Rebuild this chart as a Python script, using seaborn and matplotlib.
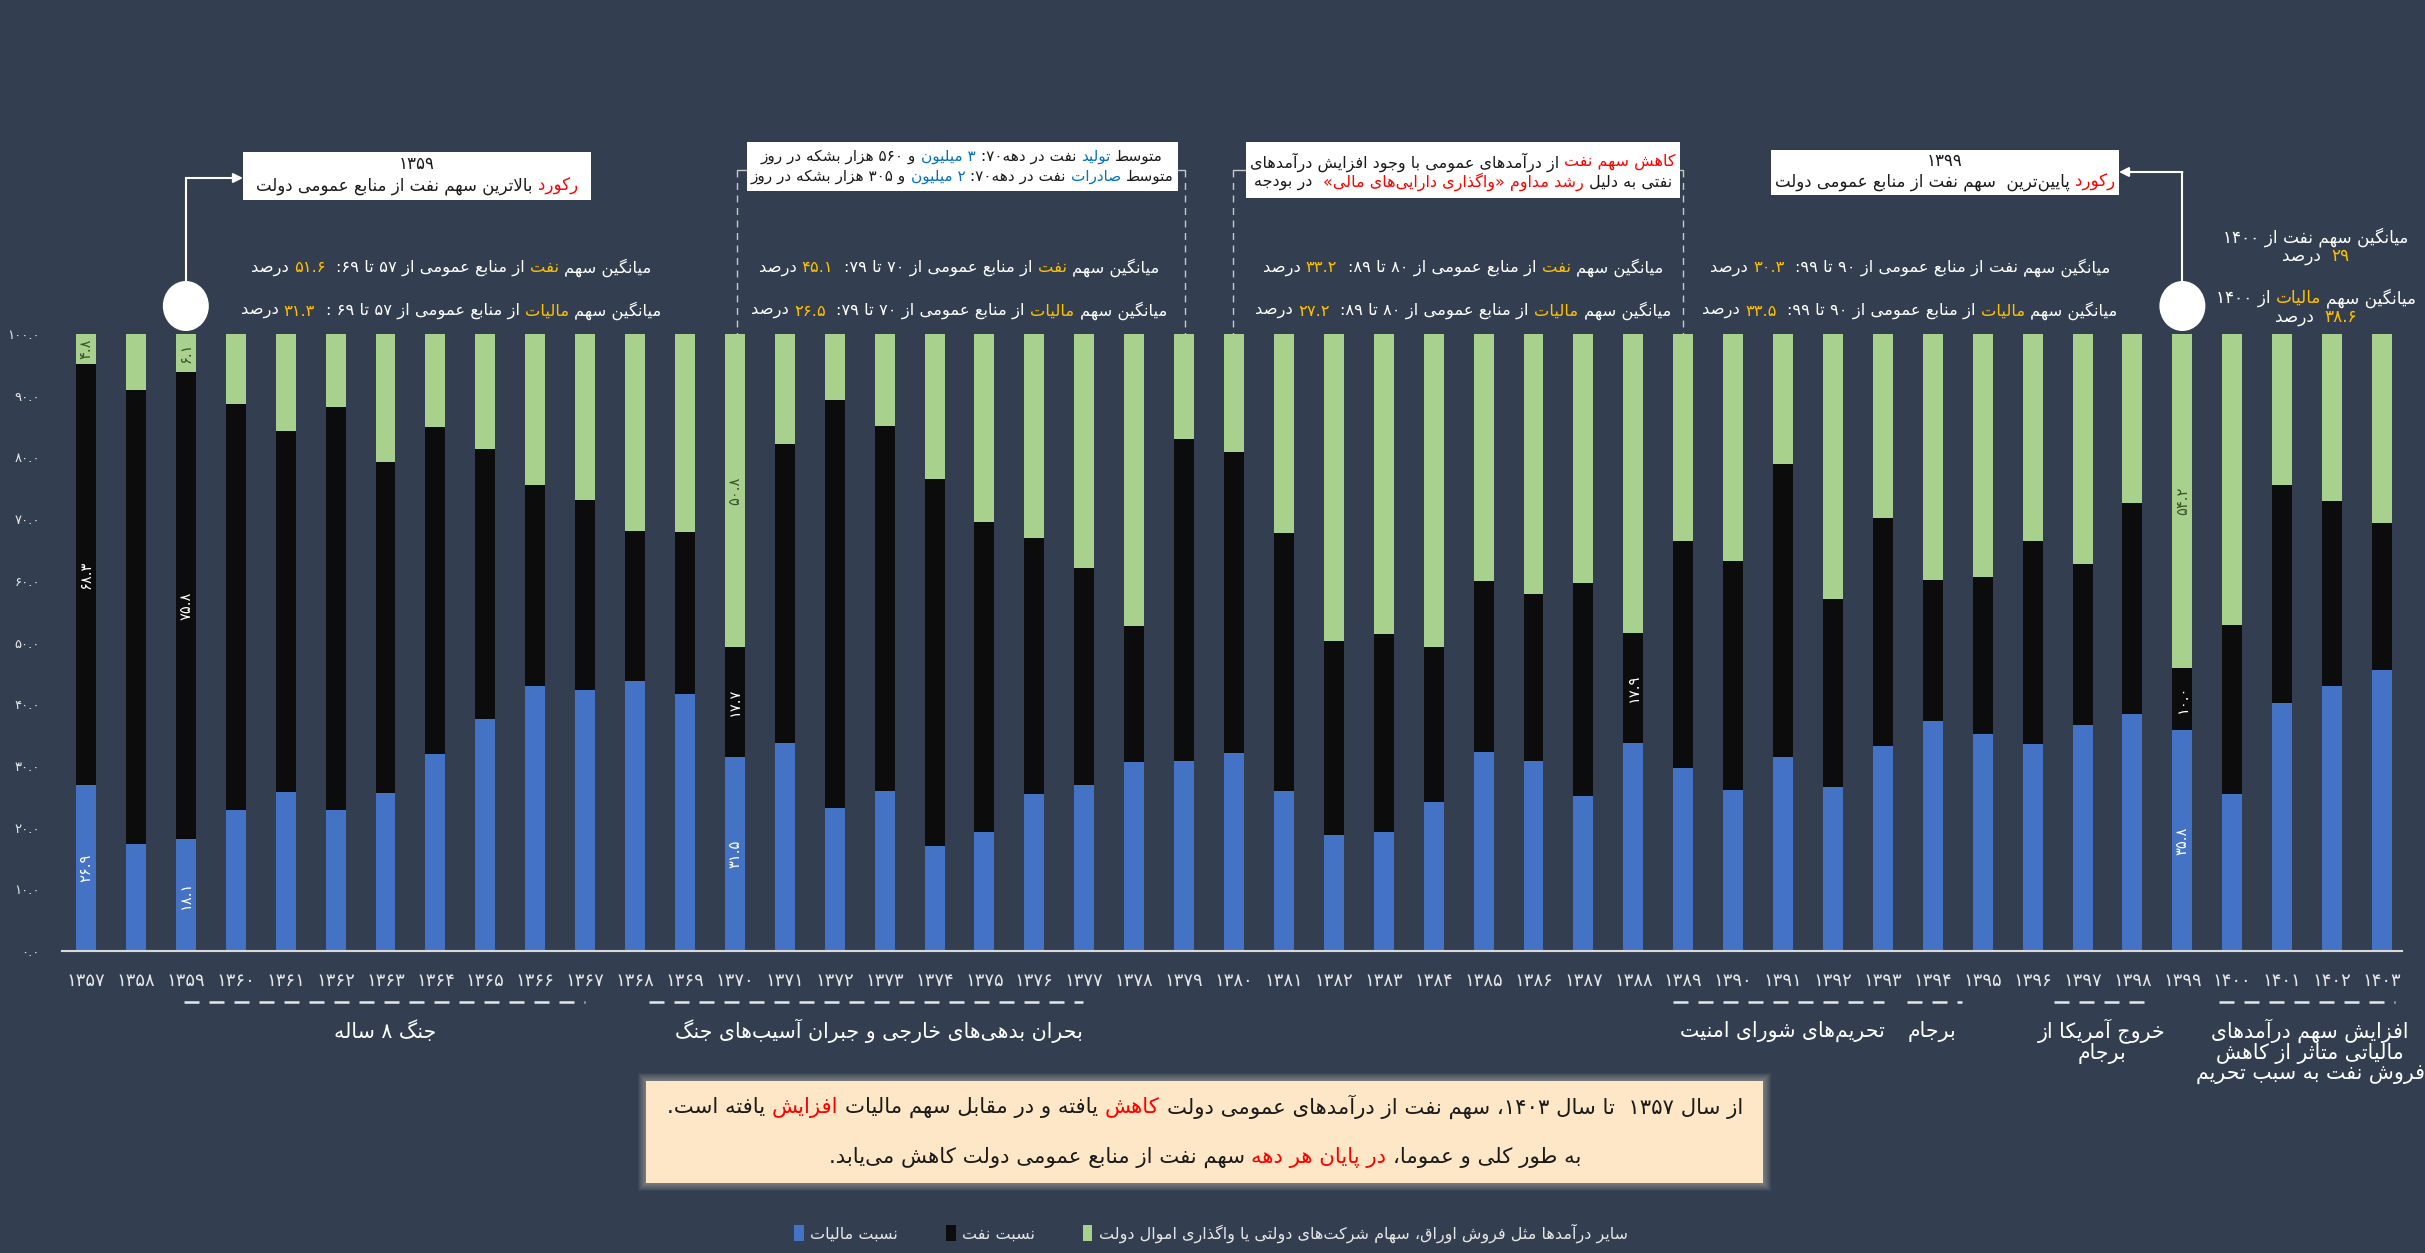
#!/usr/bin/env python3
"""
Oil vs tax share of Iran's government general resources, 1357-1403
"""

import numpy as np
import pandas as pd
import matplotlib
matplotlib.use('Agg')
import matplotlib.pyplot as plt
import seaborn as sns
from matplotlib.patches import Ellipse, FancyBboxPatch, Patch, Rectangle

# ---------------------------------------------------------------- data
years = list(range(1357, 1404))

tax_share = [26.9, 17.4, 18.1, 22.9, 25.7, 22.9, 25.6, 31.9, 37.6, 43.0, 42.3, 43.8, 41.6,
             31.5, 33.7, 23.1, 26.0, 17.0, 19.3, 25.4, 26.9, 30.7, 30.8,
             32.1, 26.0, 18.8, 19.3, 24.2, 32.3, 30.8, 25.1, 33.7, 29.7,
             26.1, 31.5, 26.6, 33.3, 37.3, 35.2, 33.6, 36.6, 38.4, 35.8,
             25.5, 40.2, 43.0, 45.6]

oil_share = [68.3, 73.6, 75.8, 65.7, 58.5, 65.2, 53.7, 53.0, 43.7, 32.6, 30.8, 24.3, 26.3,
             17.7, 48.4, 66.2, 59.1, 59.5, 50.3, 41.5, 35.1, 21.9, 52.2,
             48.7, 41.7, 31.5, 32.0, 25.0, 27.7, 27.0, 34.6, 17.9, 36.8,
             37.1, 47.4, 30.5, 36.8, 22.9, 25.4, 32.8, 26.2, 34.2, 10.0,
             27.3, 35.3, 29.9, 23.7]

other_share = [4.8, 9.0, 6.1, 11.4, 15.8, 11.9, 20.7, 15.1, 18.7, 24.4, 26.9, 31.9, 32.1,
               50.8, 17.9, 10.7, 14.9, 23.5, 30.4, 33.1, 38.0, 47.4, 17.0,
               19.2, 32.3, 49.7, 48.7, 50.8, 40.0, 42.2, 40.3, 48.4, 33.5,
               36.8, 21.1, 42.9, 29.9, 39.8, 39.4, 33.6, 37.2, 27.4, 54.2,
               47.2, 24.5, 27.1, 30.7]

# which segments carry a value label
labelled = {1357: ('tax', 'oil', 'other'), 1359: ('tax', 'oil', 'other'),
            1370: ('tax', 'oil', 'other'), 1388: ('oil',), 1399: ('tax', 'oil', 'other')}

series_names = {'tax': 'نسبت مالیات', 'oil': 'نسبت نفت',
                'other': 'سایر درآمدها مثل فروش اوراق، سهام شرکت\u200cهای دولتی یا واگذاری اموال دولت'}

# ---------------------------------------------------------------- colours
BG = '#333F50'
BLUE = '#4472C4'
BLACK = '#0C0C0C'
GREEN = '#A9D18E'
YEL = '#FFC000'
RED = '#FF0000'
LBLUE = '#0070C0'
WHITE = '#FFFFFF'
INK = '#1A1A1A'

W, H = 2425, 1253

# ---------------------------------------------------------------- persian text helpers
ZWNJ = '\u200c'
FORMS = {
    '\u0621': ('\uFE80', None, None, None),
    '\u0622': ('\uFE81', '\uFE82', None, None),
    '\u0623': ('\uFE83', '\uFE84', None, None),
    '\u0627': ('\uFE8D', '\uFE8E', None, None),
    '\u0628': ('\uFE8F', '\uFE90', '\uFE91', '\uFE92'),
    '\u067E': ('\uFB56', '\uFB57', '\uFB58', '\uFB59'),
    '\u062A': ('\uFE95', '\uFE96', '\uFE97', '\uFE98'),
    '\u062B': ('\uFE99', '\uFE9A', '\uFE9B', '\uFE9C'),
    '\u062C': ('\uFE9D', '\uFE9E', '\uFE9F', '\uFEA0'),
    '\u0686': ('\uFB7A', '\uFB7B', '\uFB7C', '\uFB7D'),
    '\u062D': ('\uFEA1', '\uFEA2', '\uFEA3', '\uFEA4'),
    '\u062E': ('\uFEA5', '\uFEA6', '\uFEA7', '\uFEA8'),
    '\u062F': ('\uFEA9', '\uFEAA', None, None),
    '\u0630': ('\uFEAB', '\uFEAC', None, None),
    '\u0631': ('\uFEAD', '\uFEAE', None, None),
    '\u0632': ('\uFEAF', '\uFEB0', None, None),
    '\u0698': ('\uFB8A', '\uFB8B', None, None),
    '\u0633': ('\uFEB1', '\uFEB2', '\uFEB3', '\uFEB4'),
    '\u0634': ('\uFEB5', '\uFEB6', '\uFEB7', '\uFEB8'),
    '\u0635': ('\uFEB9', '\uFEBA', '\uFEBB', '\uFEBC'),
    '\u0636': ('\uFEBD', '\uFEBE', '\uFEBF', '\uFEC0'),
    '\u0637': ('\uFEC1', '\uFEC2', '\uFEC3', '\uFEC4'),
    '\u0638': ('\uFEC5', '\uFEC6', '\uFEC7', '\uFEC8'),
    '\u0639': ('\uFEC9', '\uFECA', '\uFECB', '\uFECC'),
    '\u063A': ('\uFECD', '\uFECE', '\uFECF', '\uFED0'),
    '\u0641': ('\uFED1', '\uFED2', '\uFED3', '\uFED4'),
    '\u0642': ('\uFED5', '\uFED6', '\uFED7', '\uFED8'),
    '\u06A9': ('\uFB8E', '\uFB8F', '\uFB90', '\uFB91'),
    '\u06AF': ('\uFB92', '\uFB93', '\uFB94', '\uFB95'),
    '\u0644': ('\uFEDD', '\uFEDE', '\uFEDF', '\uFEE0'),
    '\u0645': ('\uFEE1', '\uFEE2', '\uFEE3', '\uFEE4'),
    '\u0646': ('\uFEE5', '\uFEE6', '\uFEE7', '\uFEE8'),
    '\u0648': ('\uFEED', '\uFEEE', None, None),
    '\u0647': ('\uFEE9', '\uFEEA', '\uFEEB', '\uFEEC'),
    '\u06CC': ('\uFBFC', '\uFBFD', '\uFEF3', '\uFEF4'),
}
LAM_ALEF = {'\u0627': ('\uFEFB', '\uFEFC'), '\u0622': ('\uFEF5', '\uFEF6'),
            '\u0623': ('\uFEF7', '\uFEF8')}
MIRROR = {'(': ')', ')': '(', '\u00ab': '\u00bb', '\u00bb': '\u00ab'}
FA = str.maketrans('0123456789', '۰۱۲۳۴۵۶۷۸۹')


def fa(v):
    return str(v).translate(FA)


def _jn(c):
    f = FORMS.get(c)
    return f is not None and f[2] is not None


def _jp(c):
    f = FORMS.get(c)
    return f is not None and f[1] is not None


def shape(s):
    res, i, n = [], 0, len(s)
    while i < n:
        c = s[i]
        if c not in FORMS:
            if c != ZWNJ:
                res.append(c)
            i += 1
            continue
        prev = s[i - 1] if i > 0 else ''
        nxt = s[i + 1] if i + 1 < n else ''
        cp = _jn(prev) and _jp(c)
        if c == '\u0644' and nxt in LAM_ALEF:
            iso, fin = LAM_ALEF[nxt]
            res.append(fin if cp else iso)
            i += 2
            continue
        cn = _jn(c) and _jp(nxt)
        iso, fin, ini, med = FORMS[c]
        res.append(med if (cp and cn) else fin if cp else ini if cn else iso)
        i += 1
    return ''.join(res)


def visual(s):
    s = shape(s)
    n = len(s)
    cls = []
    for i, c in enumerate(s):
        if c.isdigit() or c.isascii() and c.isalpha():
            cls.append('L')
        elif c in '.,/' and 0 < i < n - 1 and s[i - 1].isdigit() and s[i + 1].isdigit():
            cls.append('L')
        else:
            cls.append('R')
    runs = []
    for c, k in zip(s, cls):
        if runs and runs[-1][0] == k:
            runs[-1][1].append(c)
        else:
            runs.append([k, [c]])
    out = []
    for k, chars in reversed(runs):
        if k == 'R':
            out.append(''.join(MIRROR.get(c, c) for c in reversed(chars)))
        else:
            out.append(''.join(chars))
    return ''.join(out)


# ---------------------------------------------------------------- figure
sns.set_theme(style='dark', rc={'axes.facecolor': BG, 'figure.facecolor': BG})
plt.rcParams['font.family'] = ['DejaVu Sans']

fig = plt.figure(figsize=(W / 100, H / 100), dpi=100, facecolor=BG)
ax = fig.add_axes([62 / W, 1 - 951 / H, (2402 - 62) / W, (951 - 334) / H])
ax.set_facecolor('none')

cats = [fa(y) for y in years]
tax = np.array(tax_share)
oil = np.array(oil_share)
other = np.array(other_share)
top_oil = tax + oil
top_all = tax + oil + other

# overlapping layers: tallest first
for vals, col in [(top_all, GREEN), (top_oil, BLACK), (tax, BLUE)]:
    sns.barplot(x=cats, y=vals, color=col, saturation=1, width=0.4,
                errorbar=None, linewidth=0, edgecolor='none', ax=ax)

for i, yr in enumerate(years):
    if yr not in labelled:
        continue
    segs = {'tax': (tax[i] / 2, tax[i], WHITE),
            'oil': (tax[i] + oil[i] / 2, oil[i], WHITE),
            'other': (top_oil[i] + other[i] / 2, other[i], '#3B5229')}
    for key in labelled[yr]:
        yc, v, col = segs[key]
        ax.text(i, yc, fa(f'{v:.1f}'), rotation=90, ha='center', va='center',
                color=col, fontsize=10.5)

ax.set_xlim(-0.481, 46.4)
ax.set_ylim(0, 100)
ax.set_yticks(np.arange(0, 101, 10))
ax.set_yticklabels([fa(f'{v:.1f}') for v in np.arange(0, 101, 10)],
                   color='#E6E6E6', fontsize=9.5)
ax.set_xticks(range(len(years)))
ax.set_xticklabels(cats, color='#E6E6E6', fontsize=13)
ax.tick_params(axis='y', length=0, pad=16)
ax.tick_params(axis='x', length=0, pad=15)
ax.set_xlabel('')
ax.set_ylabel('')
ax.grid(False)
for s in ['top', 'left', 'right']:
    ax.spines[s].set_visible(False)
ax.spines['bottom'].set_color('#D9D9D9')
ax.spines['bottom'].set_linewidth(1.5)

# ---------------------------------------------------------------- overlay in pixel space
ov = fig.add_axes([0, 0, 1, 1])
ov.set_xlim(0, W)
ov.set_ylim(H, 0)
ov.axis('off')
ov.patch.set_alpha(0)

renderer = fig.canvas.get_renderer()
_wc = {}


def tw(s, size):
    key = (s, size)
    if key not in _wc:
        t = ov.text(0, 0, '|' + s + '|', fontsize=size)
        w1 = t.get_window_extent(renderer).width
        t.set_text('||')
        w2 = t.get_window_extent(renderer).width
        t.remove()
        _wc[key] = w1 - w2
    return _wc[key]


def rich(x, y, parts, size, ha='center', color=WHITE):
    vis = [(visual(s), c or color) for s, c in parts]
    widths = [tw(v, size) for v, _ in vis]
    total = sum(widths)
    right = x + total / 2 if ha == 'center' else x if ha == 'right' else x + total
    for (v, c), w in zip(vis, widths):
        left = right - w
        lead = len(v) - len(v.lstrip(' '))
        core = v.strip(' ')
        if core:
            ov.text(left + (tw(' ' * lead, size) if lead else 0), y, core,
                    color=c, fontsize=size, ha='left', va='center')
        right = left


def bar_px(idx):
    px, _ = ax.transData.transform((idx, 0))
    return px


# white note boxes
def note_box(x0, y0, x1, y1):
    ov.add_patch(Rectangle((x0, y0), x1 - x0, y1 - y0, facecolor='white',
                           edgecolor='none', zorder=3))


note_box(243, 152, 591, 200)
rich(417, 164, [('۱۳۵۹', INK)], 12)
rich(417, 186, [('رکورد', RED), (' بالاترین سهم نفت از منابع عمومی دولت', INK)], 12)

note_box(747, 142, 1178, 191)
rich(962, 157, [('متوسط ', INK), ('تولید', LBLUE), (' نفت در دهه۷۰: ', INK),
                ('۳ میلیون', LBLUE), (' و ۵۶۰ هزار بشکه در روز', INK)], 11)
rich(962, 177, [('متوسط ', INK), ('صادرات', LBLUE), (' نفت در دهه۷۰: ', INK),
                ('۲ میلیون', LBLUE), (' و ۳۰۵ هزار بشکه در روز', INK)], 11)

note_box(1246, 142, 1680, 198)
rich(1463, 162, [('کاهش سهم نفت', RED), (' از درآمدهای عمومی با وجود افزایش درآمدهای', INK)], 11.5)
rich(1463, 182, [('نفتی به دلیل ', INK), ('رشد مداوم «واگذاری دارایی\u200cهای مالی»', RED),
                 ('  در بودجه', INK)], 11.5)

note_box(1771, 150, 2119, 195)
rich(1945, 161, [('۱۳۹۹', INK)], 12)
rich(1945, 182, [('رکورد', RED), (' پایین\u200cترین  سهم نفت از منابع عمومی دولت', INK)], 12)

# dashed brackets round the two middle decades
for xl, xr, bl, br in [(737, 1185, 747, 1178), (1233, 1683, 1246, 1680)]:
    for xx, stub in [(xl, bl), (xr, br)]:
        ov.plot([xx, xx], [170, 334], color='#C8C8C8', lw=1, ls=(0, (5, 4)))
        ov.plot([xx, stub], [170, 170], color='#C8C8C8', lw=1)

# record markers with elbow arrows
for yr, y_arrow, box_edge in [(1359, 178, 243), (1399, 172, 2119)]:
    bx = bar_px(years.index(yr))
    ov.add_patch(Ellipse((bx, 306), 46, 50, facecolor='white', edgecolor='none', zorder=4))
    ov.plot([bx, bx], [281, y_arrow], color='white', lw=1.5)
    ov.annotate('', xy=(box_edge, y_arrow), xytext=(bx, y_arrow),
                arrowprops=dict(arrowstyle='-|>', color='white', lw=1.5,
                                shrinkA=0, shrinkB=0, mutation_scale=14))

# decade averages
AVG = 11.8
decades = [(451, '۵۷ تا ۶۹:  ', '۶۹ :  ', '۵۱.۶', '۳۱.۳', True),
           (959, '۷۰ تا ۷۹:  ', None, '۴۵.۱', '۲۶.۵', True),
           (1463, '۸۰ تا ۸۹:  ', None, '۳۳.۲', '۲۷.۲', True),
           (1910, '۹۰ تا ۹۹:  ', None, '۳۰.۳', '۳۳.۵', False)]
for xc, rng, rng2, v_oil, v_tax, oil_hi in decades:
    rng2 = ('۵۷ تا ' + rng2) if rng2 else rng
    rich(xc, 268, [('میانگین سهم ', WHITE), ('نفت', YEL if oil_hi else WHITE),
                   (' از منابع عمومی از ' + rng, WHITE), (v_oil, YEL), (' درصد', WHITE)], AVG)
    rich(xc, 311, [('میانگین سهم ', WHITE), ('مالیات', YEL),
                   (' از منابع عمومی از ' + rng2, WHITE), (v_tax, YEL), (' درصد', WHITE)], AVG)

rich(2316, 237, [('میانگین سهم نفت از ۱۴۰۰', WHITE)], 12.2)
rich(2316, 256, [('۲۹', YEL), ('  درصد', WHITE)], 12.2)
rich(2316, 298, [('میانگین سهم ', WHITE), ('مالیات', YEL), (' از ۱۴۰۰', WHITE)], 12.2)
rich(2316, 317, [('۳۸.۶', YEL), ('  درصد', WHITE)], 12.2)

# period brackets under the axis
GRP = 14.8
periods = [((184, 585), 385, ['جنگ ۸ ساله']),
           ((649, 1083), 879, ['بحران بدهی\u200cهای خارجی و جبران آسیب\u200cهای جنگ']),
           ((1673, 1884), 1782, ['تحریم\u200cهای شورای امنیت']),
           ((1907, 1962), 1932, ['برجام']),
           ((2054, 2149), 2102, ['خروج آمریکا از', 'برجام']),
           ((2219, 2395), 2310, ['افزایش سهم درآمدهای', 'مالیاتی متاثر از کاهش',
                                 'فروش نفت به سبب تحریم'])]
for (x0, x1), xc, lines in periods:
    ov.plot([x0, x1], [1002, 1002], color='#E6E6E6', lw=1.8, ls=(0, (6, 4)))
    for k, line in enumerate(lines):
        rich(xc, 1031 + k * 22, [(line, WHITE)], GRP)

# summary box with soft glow
for g in range(8, 0, -1):
    ov.add_patch(FancyBboxPatch((646 - g, 1081 - g), 1117 + 2 * g, 102 + 2 * g,
                                boxstyle='square,pad=0', facecolor='#FFF3DC',
                                edgecolor='none', alpha=0.05, zorder=2))
ov.add_patch(Rectangle((646, 1081), 1117, 102, facecolor='#FDE7C6', edgecolor='none', zorder=3))
BOXF = 15.3
rich(1205, 1107, [('از سال ۱۳۵۷  تا سال ۱۴۰۳، سهم نفت از درآمدهای عمومی دولت ', INK),
                  ('کاهش', RED), (' یافته و در مقابل سهم مالیات ', INK), ('افزایش', RED),
                  (' یافته است.', INK)], BOXF)
rich(1205, 1157, [('به طور کلی و عموما، ', INK), ('در پایان هر دهه', RED),
                  (' سهم نفت از منابع عمومی دولت کاهش می\u200cیابد.', INK)], BOXF)

# legend
handles = [Patch(facecolor=c, edgecolor='none', linewidth=0) for c in (BLUE, BLACK, GREEN)]
labels = [visual(series_names[k]) for k in ('tax', 'oil', 'other')]
fig.legend(handles, labels, loc='center', bbox_to_anchor=(1211 / W, 1 - 1233 / H), ncol=3,
           frameon=False, fontsize=11.5, labelcolor='#E6E6E6', handlelength=0.6,
           handleheight=1.2, handletextpad=0.4, columnspacing=3.0)

fig.savefig('out.png', dpi=100, facecolor=BG)
